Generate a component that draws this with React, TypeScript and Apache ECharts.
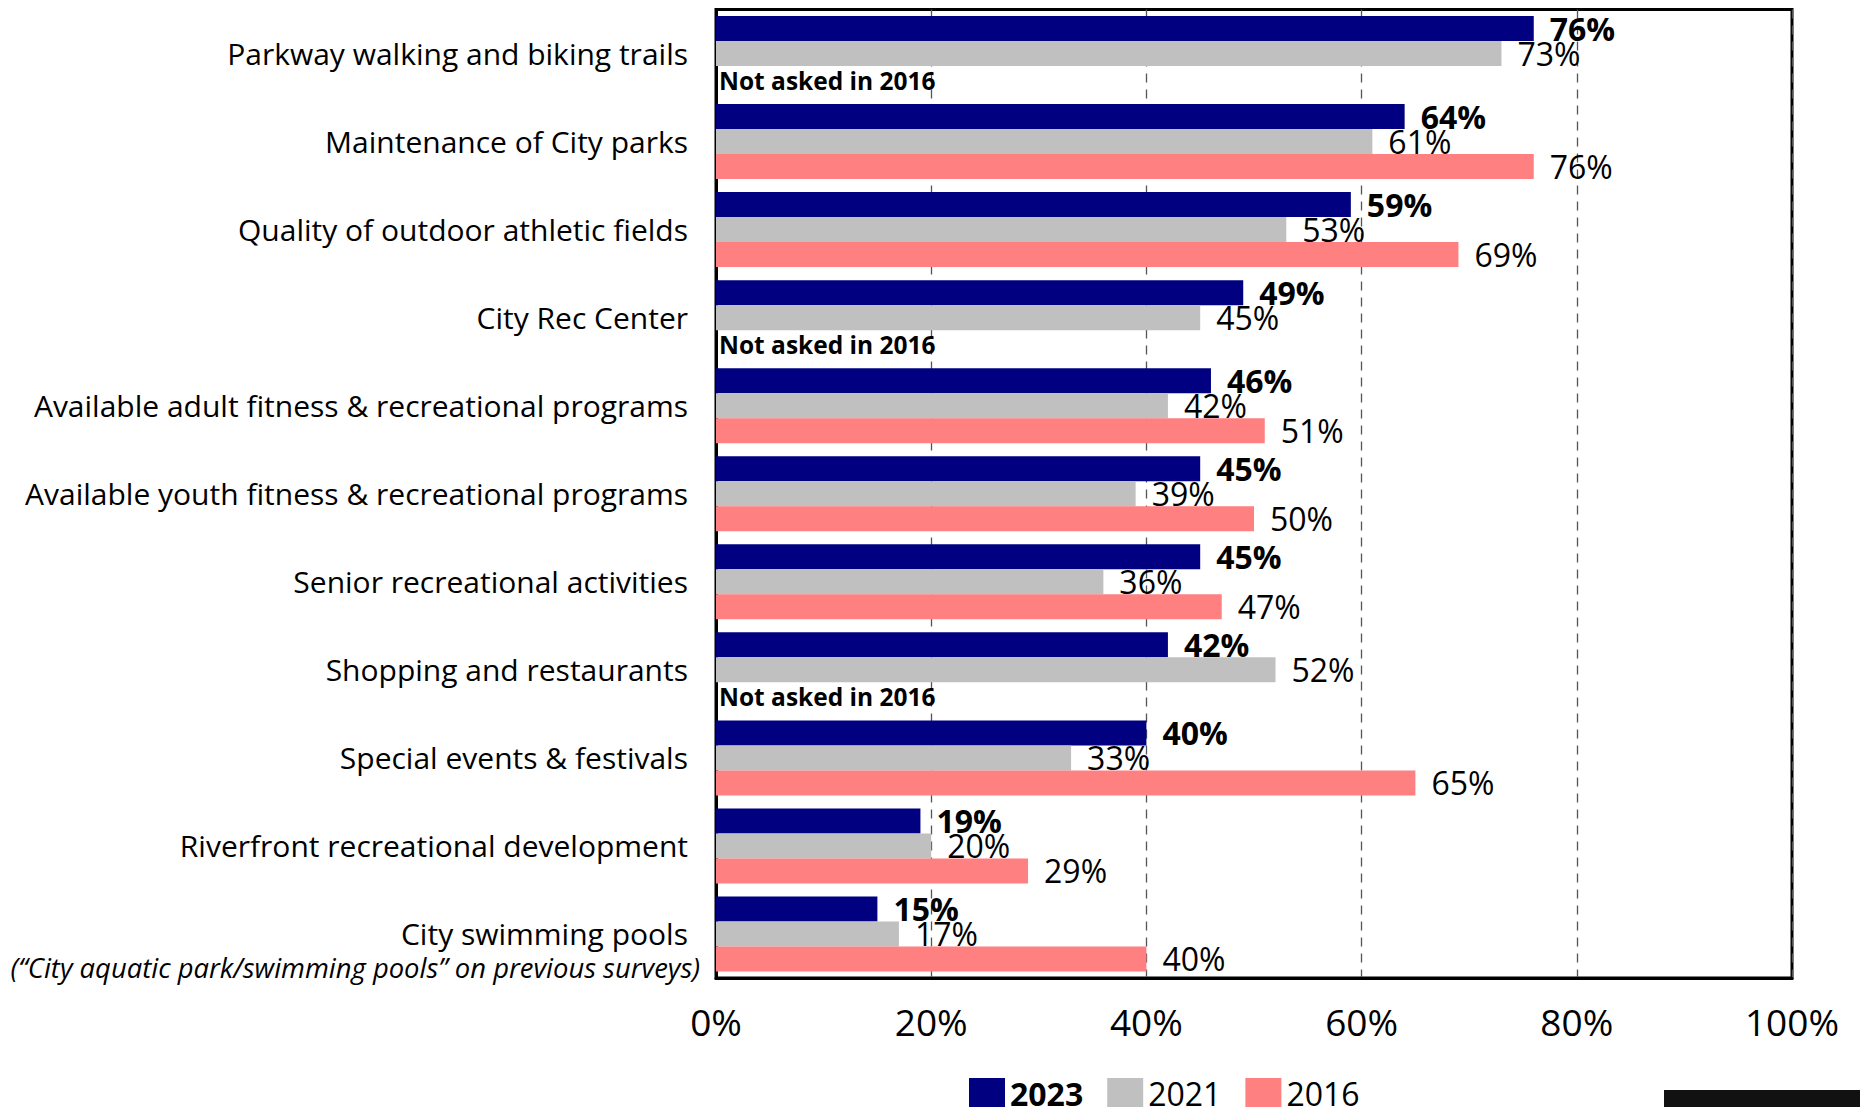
import React, { useEffect, useRef } from "react";
import * as echarts from "echarts";

const categories = [
  "Parkway walking and biking trails",
  "Maintenance of City parks",
  "Quality of outdoor athletic fields",
  "City Rec Center",
  "Available adult fitness & recreational programs",
  "Available youth fitness & recreational programs",
  "Senior recreational activities",
  "Shopping and restaurants",
  "Special events & festivals",
  "Riverfront recreational development",
  "City swimming pools",
];
const values2023 = [76, 64, 59, 49, 46, 45, 45, 42, 40, 19, 15];
const values2021 = [73, 61, 53, 45, 42, 39, 36, 52, 33, 20, 17];
const values2016: (number | null)[] = [null, 76, 69, null, 51, 50, 47, null, 65, 29, 40];
const xTicks = [0, 20, 40, 60, 80, 100];
const notAskedText = "Not asked in 2016";
const footnote = "(\u201CCity aquatic park/swimming pools\u201D on previous surveys)";

const FONT = "Open Sans";

export default function App() {
  const ref = useRef<HTMLDivElement>(null);
  useEffect(() => {
    if (!ref.current) return;
    const chart = echarts.init(ref.current, undefined, { renderer: "svg" });
    const labelBase = {
      show: true,
      position: "right" as const,
      distance: 16,
      fontSize: 32,
      fontFamily: FONT,
      color: "#000",
      formatter: "{c}%",
    };
    const data2016 = values2016.map((v) =>
      v == null
        ? {
            value: 0,
            label: {
              show: true,
              position: "right",
              distance: 3,
              offset: [0, 2],
              fontSize: 24.5,
              fontWeight: "bold",
              fontFamily: FONT,
              color: "#000",
              formatter: notAskedText,
            },
          }
        : v
    );
    chart.setOption({
      animation: false,
      backgroundColor: "#fff",
      textStyle: { fontFamily: FONT },
      grid: {
        left: 716,
        top: 9.5,
        width: 1076,
        height: 968.5,
        show: true,
        borderColor: "#000",
        borderWidth: 3,
        backgroundColor: "transparent",
      },
      legend: {
        left: 964,
        top: 1072,
        itemWidth: 36,
        itemHeight: 30,
        itemGap: 24,
        icon: "rect",
        data: ["2023", "2021", "2016"],
        formatter: (name: string) => (name === "2023" ? `{b|${name}}` : `{n|${name}}`),
        textStyle: {
          fontFamily: FONT,
          fontSize: 32,
          color: "#000",
          rich: {
            b: { fontFamily: FONT, fontSize: 32, fontWeight: "bold", color: "#000", lineHeight: 30 },
            n: { fontFamily: FONT, fontSize: 32, color: "#000", lineHeight: 30 },
          },
        },
      },
      xAxis: {
        type: "value",
        min: xTicks[0],
        max: xTicks[xTicks.length - 1],
        interval: 20,
        axisLine: { show: true, lineStyle: { color: "#000", width: 3 } },
        axisTick: { show: false },
        axisLabel: {
          formatter: "{value}%",
          fontSize: 37,
          fontFamily: FONT,
          color: "#000",
          margin: 25,
        },
        splitLine: {
          show: true,
          lineStyle: { color: "#555", type: [9, 7], width: 1.3 },
        },
      },
      yAxis: {
        type: "category",
        data: categories,
        inverse: true,
        axisLine: { show: true, lineStyle: { color: "#000", width: 3 } },
        axisTick: { show: false },
        axisLabel: {
          fontSize: 30,
          fontFamily: FONT,
          color: "#000",
          margin: 28,
        },
      },
      graphic: [
        {
          type: "text",
          right: 1860 - 700,
          top: 954,
          style: {
            text: footnote,
            fontSize: 27.4,
            fontStyle: "italic",
            fontFamily: FONT,
            fill: "#000",
          },
        },
        {
          type: "rect",
          shape: { x: 1664, y: 1090, width: 196, height: 17 },
          style: { fill: "#111" },
        },
      ],
      series: [
        {
          name: "2023",
          type: "bar",
          data: values2023,
          barWidth: 25,
          barGap: "0%",
          itemStyle: { color: "#000080" },
          label: { ...labelBase, fontWeight: "bold" },
        },
        {
          name: "2021",
          type: "bar",
          data: values2021,
          barWidth: 25,
          barGap: "0%",
          itemStyle: { color: "#C0C0C0" },
          label: { ...labelBase },
        },
        {
          name: "2016",
          type: "bar",
          data: data2016,
          barWidth: 25,
          barGap: "0%",
          itemStyle: { color: "#FF8080" },
          label: { ...labelBase },
        },
      ],
    });
    return () => chart.dispose();
  }, []);
  return (
    <div
      ref={ref}
      style={{ position: "absolute", left: 0, top: 0, width: 1860, height: 1107 }}
    />
  );
}
